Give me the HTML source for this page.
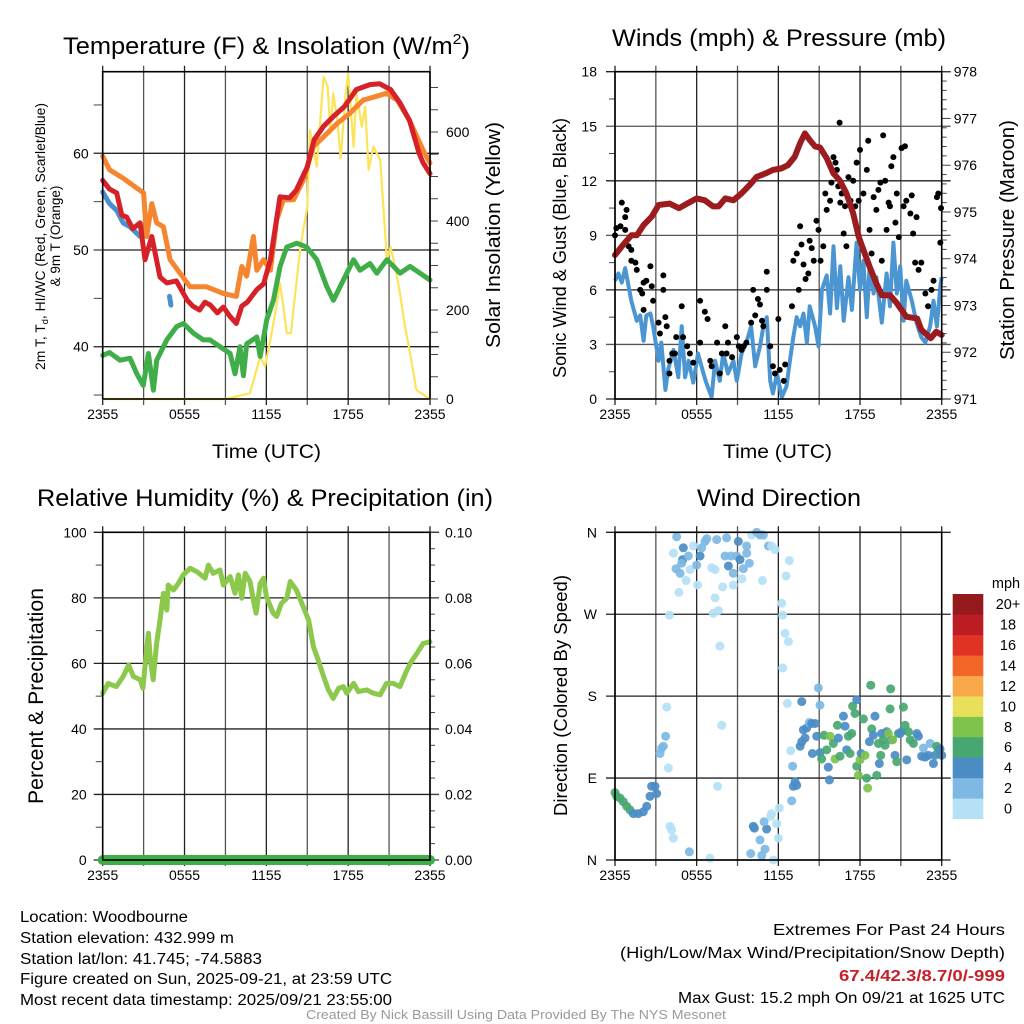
<!DOCTYPE html>
<html><head><meta charset="utf-8"><style>
html,body{margin:0;padding:0;background:#fff;}
svg{display:block;font-family:"Liberation Sans",Arial,sans-serif;}
</style></head><body>
<svg id="fig" width="1024" height="1024" viewBox="0 0 1024 1024" xmlns="http://www.w3.org/2000/svg">
<rect width="1024" height="1024" fill="#fff"/>
<g id="p1"></g>
<g id="p2"></g>
<g id="p3"></g>
<g id="p4"></g>
<g font-size="24" fill="#000">
<text x="63" y="54" textLength="407" lengthAdjust="spacingAndGlyphs">Temperature (F) &amp; Insolation (W/m<tspan font-size="15" dy="-10">2</tspan><tspan dy="10">)</tspan></text>
<text x="612" y="46" textLength="334" lengthAdjust="spacingAndGlyphs">Winds (mph) &amp; Pressure (mb)</text>
<text x="37" y="506" textLength="456" lengthAdjust="spacingAndGlyphs">Relative Humidity (%) &amp; Precipitation (in)</text>
<text x="697" y="506" textLength="164" lengthAdjust="spacingAndGlyphs">Wind Direction</text>
</g>
<g font-size="19">
<text x="212" y="458" textLength="109" lengthAdjust="spacingAndGlyphs">Time (UTC)</text>
<text x="723" y="458" textLength="109" lengthAdjust="spacingAndGlyphs">Time (UTC)</text>
</g>
<text transform="translate(45,370) rotate(-90)" font-size="13.5" textLength="267" lengthAdjust="spacingAndGlyphs">2m T, T<tspan font-size="9" dy="3">d</tspan><tspan dy="-3">, HI/WC (Red, Green, Scarlet/Blue)</tspan></text>
<text transform="translate(60,236) rotate(-90)" font-size="13.5" text-anchor="middle">&amp; 9m T (Orange)</text>
<text transform="translate(500,348) rotate(-90)" font-size="20" textLength="226" lengthAdjust="spacingAndGlyphs">Solar Insolation (Yellow)</text>
<text transform="translate(566,378) rotate(-90)" font-size="18" textLength="260" lengthAdjust="spacingAndGlyphs">Sonic Wind &amp; Gust (Blue, Black)</text>
<text transform="translate(1014,360) rotate(-90)" font-size="20" textLength="240" lengthAdjust="spacingAndGlyphs">Station Pressure (Maroon)</text>
<text transform="translate(43,804) rotate(-90)" font-size="21" textLength="216" lengthAdjust="spacingAndGlyphs">Percent &amp; Precipitation</text>
<text transform="translate(567,816) rotate(-90)" font-size="18" textLength="241" lengthAdjust="spacingAndGlyphs">Direction (Colored By Speed)</text>
<g id="cbar"></g>
<g font-size="15.5">
<text x="20" y="922" textLength="168" lengthAdjust="spacingAndGlyphs">Location: Woodbourne</text>
<text x="20" y="943" textLength="214" lengthAdjust="spacingAndGlyphs">Station elevation: 432.999 m</text>
<text x="20" y="964" textLength="242" lengthAdjust="spacingAndGlyphs">Station lat/lon: 41.745; -74.5883</text>
<text x="20" y="984" textLength="372" lengthAdjust="spacingAndGlyphs">Figure created on Sun, 2025-09-21, at 23:59 UTC</text>
<text x="20" y="1005" textLength="372" lengthAdjust="spacingAndGlyphs">Most recent data timestamp: 2025/09/21 23:55:00</text>
<text x="1005" y="935" text-anchor="end" textLength="232" lengthAdjust="spacingAndGlyphs">Extremes For Past 24 Hours</text>
<text x="1005" y="958" text-anchor="end" textLength="385" lengthAdjust="spacingAndGlyphs">(High/Low/Max Wind/Precipitation/Snow Depth)</text>
<text x="1005" y="981" text-anchor="end" fill="#c8202a" font-weight="bold" textLength="166" lengthAdjust="spacingAndGlyphs">67.4/42.3/8.7/0/-999</text>
<text x="1005" y="1003" text-anchor="end" textLength="327" lengthAdjust="spacingAndGlyphs">Max Gust: 15.2 mph On 09/21 at 1625 UTC</text>
</g>
<text x="306" y="1019" font-size="12.5" fill="#999" textLength="420" lengthAdjust="spacingAndGlyphs">Created By Nick Bassill Using Data Provided By The NYS Mesonet</text>
</svg>
<script>
// ---------- data ----------
const xTickLabels = ["2355","0555","1155","1755","2355"];
// Temperature panel
const tempRedH = [0,0.5,1.03,1.4,1.76,2.2,2.74,3.1,3.6,4.2,4.7,5.4,6.2,6.6,7.1,7.5,7.9,8.4,8.85,9.3,9.8,10.2,10.6,11.3,11.8,12.3,13.0,13.7,14.2,15.0,15.5,16.2,16.9,17.7,18.6,19.6,20.3,21.1,21.8,22.5,23.2,23.5,24];
const tempRed  = [57.2,56.3,55.9,53.6,53.4,52.2,52.8,49,51.4,47.2,46.6,46.8,44.8,44.2,43.8,44.6,44.3,43.5,44.1,43.2,42.4,44.2,44.6,45.9,46.5,49,55.5,55.4,56.2,58.6,61.4,62.8,63.8,64.8,66.6,67.1,67.2,66.6,65.2,63.4,60,59,57.9];
const tempOrH = [0,0.5,1.52,2.5,3.0,3.22,3.6,3.96,4.45,4.94,5.67,6.4,7.6,8.85,9.8,10.2,10.56,11.05,11.3,11.8,12.3,12.76,13.25,14.0,14.7,15.45,16.2,17.2,18.1,19.1,20.1,20.8,21.6,22.5,23.5,24];
const tempOr  = [59.7,58.3,57.4,56.4,55.9,51.4,54.8,52.8,52.4,49,47.6,46.2,46.2,45.5,45.2,48.3,47.3,51.4,47.9,49,47.9,53.1,55.2,55.2,57.2,60.7,61.7,63.1,64.1,65.5,65.9,66.2,65.5,63.4,60.3,59];
const windChillH = [0,0.5,1.03,1.5,2.0,2.74,null,4.9,5.0];
const windChill  = [56,54.8,54.1,52.8,52.4,51.4,null,45.2,44.3];
const dewH = [0,0.5,1.27,2.0,2.5,2.98,3.35,3.72,3.96,4.7,5.43,5.92,6.65,7.38,7.87,8.6,9.34,9.7,10.07,10.32,10.56,11.3,11.55,12.03,12.52,13.01,13.5,14.23,14.96,15.7,16.43,16.92,17.65,18.39,18.87,19.6,20.1,20.83,21.32,21.8,22.54,23.27,24];
const dew  = [39.1,39.4,38.6,38.8,37.2,36,39.3,35.5,38.6,40.7,42.1,42.4,41.4,40.7,40.7,40,39.3,37.2,40,37,40.3,41,39,42.8,44.8,48.3,50.3,50.7,50.3,49,46.2,44.8,46.9,49,47.9,48.6,47.6,49,48.3,47.6,48.3,47.6,46.9];
const solarH = [0,9.0,10.8,11.55,11.9,12.3,12.65,13.0,13.25,13.5,13.8,14.5,15.0,15.2,15.7,16.2,16.5,16.7,16.9,17.2,17.45,17.8,18.0,18.4,18.6,19.0,19.25,19.5,19.85,20.35,20.6,20.84,21.1,21.44,21.8,22.17,22.5,23.0,24];
const solar  = [0,0,13,95,73,133,193,260,207,148,148,342,432,604,522,724,702,597,687,627,541,680,732,567,687,612,657,515,567,537,425,312,342,297,237,163,110,20,0];
const tempTicks = [40,50,60];
const solarTicks = [0,200,400,600];
// Winds panel
const presH = [0,0.6,1.2,1.6,2.1,2.7,3.2,4.0,4.7,5.3,6.0,6.6,7.2,7.6,8.1,8.7,9.3,9.9,10.4,11.1,11.6,12.2,12.7,13.2,13.6,13.95,14.3,14.7,15.05,15.55,16.04,16.5,17.0,17.5,17.9,18.25,18.7,19.2,19.6,20.2,20.7,21.4,22.2,22.5,23.2,23.6,24];
const pres  = [974.08,974.3,974.5,974.5,974.72,974.9,975.15,975.18,975.08,975.18,975.29,975.25,975.12,975.12,975.29,975.25,975.4,975.58,975.75,975.83,975.9,975.93,976.0,976.18,976.47,976.68,976.54,976.4,976.38,976.15,975.83,975.68,975.4,974.97,974.47,974.19,973.83,973.47,973.22,973.22,973.05,972.76,972.72,972.48,972.3,972.44,972.37];
const windH = [0,0.25,0.5,0.75,1.0,1.2,1.6,1.85,2.1,2.3,2.6,2.8,3.2,3.4,3.7,3.9,4.3,4.65,4.9,5.15,5.4,5.75,6.1,6.5,6.7,7.1,7.35,7.7,7.95,8.3,8.7,8.95,9.3,9.65,10.0,10.3,10.65,10.9,11.15,11.4,11.6,11.9,12.25,12.6,12.85,13.1,13.35,13.6,13.85,14.1,14.3,14.7,14.95,15.2,15.55,15.8,16.05,16.3,16.55,16.8,17.15,17.4,17.75,18.0,18.25,18.5,18.7,19.0,19.2,19.6,19.95,20.2,20.45,20.7,20.95,21.2,21.4,21.8,22.15,22.5,22.8,23.15,23.4,23.65,23.9,24];
const wind  = [6.5,6.9,6.4,7.2,6.2,5.4,4.3,4.6,3.2,4.6,4.7,4.0,2.1,3.1,0.5,1.6,2.7,1.2,4.0,1.2,2.1,0.9,2.5,1.4,0.9,0.1,2.1,1.0,2.5,1.4,2.1,1.0,2.5,3.1,4.0,1.8,2.9,4.0,4.5,1.0,0.3,1.4,0.1,0.7,2.1,3.4,4.5,4.0,4.7,3.1,5.1,4.0,2.9,6.0,6.8,4.7,8.4,5.0,7.3,4.3,6.7,4.9,8.6,6.0,7.6,4.5,7.3,5.8,6.7,4.2,6.9,5.1,8.6,5.8,7.3,4.3,6.5,5.4,4.2,3.4,3.1,4.0,5.4,4.0,6.2,6.7];
const gustH = [0,0.1,0.4,0.5,0.75,0.85,0.75,1.0,1.2,1.2,1.5,1.6,1.85,2.0,2.1,2.3,2.6,2.7,2.8,3.55,3.55,2.1,3.2,3.3,3.8,3.7,4.0,4.2,4.4,4.0,4.5,4.9,5.0,5.3,5.5,5.75,6.25,6.6,6.8,6.25,7.0,7.1,7.5,7.7,7.85,8.1,8.3,8.2,8.6,8.95,9.1,9.3,9.45,9.65,10.0,10.15,10.3,10.5,10.65,10.8,10.9,11.15,11.15,11.4,11.6,11.75,12.0,12.1,12.4,12.5,13.0,13.1,13.35,13.5,13.6,13.7,13.85,14.0,14.2,14.3,14.45,14.6,14.8,14.95,15.1,15.3,15.45,15.55,15.8,15.9,16.05,16.2,16.3,16.4,16.5,16.55,16.65,16.8,16.9,17.0,17.15,17.3,17.5,17.65,17.75,17.9,18.0,18.25,18.5,18.6,18.7,18.85,19.0,19.2,19.35,19.5,19.6,19.7,19.85,19.95,20.1,20.2,20.3,20.45,20.6,20.7,20.85,21.05,21.2,21.3,21.4,21.7,21.8,21.9,22.05,22.15,22.3,22.5,22.8,23.0,23.25,23.4,23.65,23.75,23.9,23.95];
const gust  = [9.0,9.4,9.5,10.8,10.0,10.4,9.3,8.4,8.2,7.6,7.5,7.1,6.0,5.8,6.4,6.5,7.3,6.2,5.4,6.8,6.0,4.9,4.2,3.6,4.0,4.5,2.1,2.5,2.5,1.4,3.4,5.1,3.4,2.9,2.5,2.0,5.4,4.8,4.4,3.1,2.1,1.8,3.1,1.4,2.5,4.0,3.1,2.5,2.3,3.4,2.9,2.7,2.9,3.1,4.2,6.0,4.6,5.5,5.2,4.3,4.0,7.0,6.0,2.9,1.8,1.4,4.4,1.6,1.0,1.9,5.1,7.6,8.0,6.0,9.5,8.5,7.4,6.6,6.9,8.7,8.3,7.6,9.8,9.3,7.6,8.4,11.3,10.4,10.9,11.9,13.3,13.0,12.6,11.7,15.2,10.8,11.3,9.1,10.6,8.4,12.2,10.9,12.0,10.6,13.0,10.9,13.7,11.3,12.6,14.2,9.3,8.0,11.1,10.4,11.5,11.9,7.6,14.5,12.0,9.3,10.8,10.6,12.8,13.3,9.7,11.3,8.9,13.8,10.6,13.9,10.9,10.2,11.2,9.1,7.5,10.0,7.1,7.5,5.8,5.1,6.0,6.5,11.1,11.3,8.6,10.5];
const windTicks = [0,3,6,9,12,15,18];
const presTicks = [971,972,973,974,975,976,977,978];
// Humidity panel
const rhH = [0,0.4,1.0,1.5,1.9,2.25,2.75,2.95,3.1,3.35,3.5,3.7,3.95,4.2,4.45,4.7,4.8,5.2,5.55,5.9,6.4,6.9,7.5,7.75,8.1,8.6,8.85,9.35,9.7,9.95,10.2,10.45,10.8,11.05,11.25,11.55,11.8,12.0,12.5,12.75,13.1,13.5,13.75,14.2,14.7,15.1,15.45,15.8,16.2,16.55,16.9,17.3,17.65,17.9,18.4,18.75,19.35,19.85,20.35,20.8,21.3,21.8,22.2,22.55,23.05,23.5,24];
const rh  = [50.9,53.9,52.9,56,59.5,56,55,52.4,59,69.2,61,55,66.1,73.2,81.4,76.3,83.9,82.4,84.4,87,89,88,86,90,87.5,88.5,83.9,86.5,81.4,87,79.9,87.5,85,79.3,75.3,84.4,86,80.4,75.3,74.3,78.3,79.9,85,82.4,77.3,73.2,65.1,61,56,51.9,49.3,52.4,52.9,50.9,53.9,51.4,51.9,50.9,50.4,53.9,53.9,52.9,57,60,63.1,66.1,66.6];
const precipH = [0,24];
const precip = [0,0];
const rhTicks = [0,20,40,60,80,100];
const precipTicks = ["0.00","0.02","0.04","0.06","0.08","0.10"];
// Wind direction panel
const dirH = [0,0.12,0.37,0.61,0.86,1.1,1.35,1.71,2.08,2.33,2.57,2.69,2.94,3.06,3.31,3.43,3.55,3.72,3.92,3.8,4.04,4.16,4.29,5.46,6.98,7.54,7.84,7.71,4.0,4.53,5.02,4.97,4.9,4.48,4.78,5.22,4.7,4.29,5.39,5.51,5.76,6.0,6.25,6.37,6.61,6.74,7.47,8.2,6.07,7.1,7.35,7.35,7.22,7.59,7.91,8.08,8.33,8.52,8.69,8.69,8.94,9.06,9.18,9.31,9.43,9.67,9.67,9.87,10.04,10.41,10.65,10.9,10.83,11.27,11.51,11.76,12.81,12.56,12.25,12.32,12.49,12.74,12.32,12.66,10.16,10.24,11.14,10.95,10.65,11.02,10.78,9.97,11.63,12.0,11.88,11.51,11.44,12.07,12.98,13.1,13.23,13.35,13.05,12.91,13.72,13.84,13.96,14.08,14.28,14.45,14.7,14.94,15.06,14.82,13.6,13.72,14.5,15.06,15.18,15.36,15.55,15.67,15.75,15.8,16.04,16.16,16.34,16.41,16.53,16.78,16.9,17.02,17.14,17.27,17.39,17.46,17.63,17.76,17.76,17.88,18.0,18.08,18.25,18.37,18.49,18.56,18.69,18.79,18.86,18.98,19.1,19.23,19.35,19.42,19.52,19.59,19.72,19.84,19.96,20.08,20.21,20.25,20.33,20.4,20.57,20.7,20.82,20.94,21.06,21.19,21.31,21.43,21.55,21.68,21.92,22.17,22.29,22.53,22.66,22.78,23.02,23.15,23.39,23.51,23.63,23.76,24,23.88];
const dirDeg = [74,70,68,64,59,55,51,51,53,59,70,81,81,73,117,123,125,136,101,168,37,33,24,9,2,81,148,235,269,355,343,330,326,320,315,307,294,337,334,319,345,324,334,343,350,353,352,354,302,321,319,288,271,274,300,334,323,334,315,302,334,350,330,309,320,337,345,326,357,360,357,357,307,345,345,341,329,312,282,269,249,240,211,172,37,35,34,42,22,12,5,7,0,24,40,51,48,57,65,81,86,82,103,120,174,143,134,145,151,150,150,189,170,136,125,130,117,118,111,137,121,102,88,136,128,111,148,134,114,158,147,121,136,117,139,169,161,176,103,93,110,117,155,115,90,79,130,192,144,137,158,93,128,106,115,139,132,126,141,139,166,188,132,132,115,108,139,139,141,168,148,110,141,132,128,139,136,114,123,113,115,128,106,115,125,121,115,122];
const dirSpd = [7,7,7,7,7,7,5,5,5,5,5,5,5,5,3,3,3,3,1,1,1,1,1,3,1,1,1,1,1,3,5,5,3,3,3,1,1,1,3,1,1,3,5,3,3,3,3,3,1,1,1,1,1,1,1,3,5,3,3,1,3,5,5,1,3,3,3,3,1,3,3,3,1,3,1,1,1,1,1,1,1,1,1,1,5,5,5,3,3,3,3,3,1,1,1,1,1,1,3,5,5,5,3,1,5,5,5,5,3,5,5,3,3,5,5,5,5,5,7,7,7,5,5,9,7,9,7,5,7,5,5,5,7,7,7,7,7,5,7,9,9,5,7,9,7,9,5,7,7,5,5,7,7,5,7,5,7,7,5,9,7,7,5,9,5,7,7,5,5,7,7,5,7,7,7,5,5,5,3,5,5,3,5,5,7,7,5,5];
const dirTickLabels = ["N","E","S","W","N"];
const cbarLabels = ["0","2","4","6","8","10","12","14","16","18","20+"];
const cbarColors = ["#b4e1f6","#7db9e4","#4a8cc4","#46a770","#7ec34c","#e8e05a","#f9a94a","#f26628","#e03326","#bd1c24","#951a1d"];

// ---------- helpers ----------
const NS = "http://www.w3.org/2000/svg";
function mk(tag, attrs, parent){const e=document.createElementNS(NS,tag);for(const k in attrs)e.setAttribute(k,attrs[k]);parent.appendChild(e);return e;}
function lin(d0,d1,r0,r1){return v=>r0+(v-d0)*(r1-r0)/(d1-d0);}
function pathD(xs,ys,sx,sy){let d="",pen=false;for(let i=0;i<xs.length;i++){if(xs[i]===null||ys[i]===null){pen=false;continue;}d+=(pen?"L":"M")+sx(xs[i]).toFixed(1)+","+sy(ys[i]).toFixed(1);pen=true;}return d;}
function frame(g,L,R,T,B,name){
  // vertical grid every 3 h
  const sx=lin(0,24,L,R);
  for(let h=0;h<=24;h+=3){
    const ln=mk("line",{x1:sx(h),x2:sx(h),y1:T-6,y2:B+6,stroke:(h%6===0)?"#222":"#555","stroke-width":1.3},g);
    
    
  }
  for(let i=0;i<xTickLabels.length;i++){
    const t=mk("text",{x:sx(i*6),y:B+20,"font-size":14,"text-anchor":"middle"},g);
    t.textContent=xTickLabels[i];
    
    
  }
  return sx;
}
function hgrid(g,L,R,y,name,dark){
  const ln=mk("line",{x1:L-9,x2:R+9,y1:y,y2:y,stroke:dark?"#222":"#555","stroke-width":1.3},g);
  
  
}
function minor(g,x1,x2,y,name){
  const ln=mk("line",{x1:x1,x2:x2,y1:y,y2:y,stroke:"#444","stroke-width":1},g);
  
  
}
function label(g,x,y,txt,anchor,name){
  const t=mk("text",{x:x,y:y+5,"font-size":14,"text-anchor":anchor},g);
  t.textContent=txt;
  
  
}
function border(g,L,R,T,B,name){
  const r=mk("rect",{x:L,y:T,width:R-L,height:B-T,fill:"none",stroke:"#000","stroke-width":1.6},g);
  
  
}

// ---------- panel 1 ----------
(function(){
  const g=document.getElementById("p1");
  const L=102.7,R=430,T=71.7,B=399;
  const sx=frame(g,L,R,T,B,"temperature");
  const sy=lin(40,60,346.7,153.3);
  const sw=lin(0,200,399,310);
  for(const v of tempTicks){hgrid(g,L,R,sy(v),"temperature-gridline",true);label(g,L-14,sy(v),String(v),"end","temperature-tick-label");}
  for(let v=35;v<=65;v+=5){minor(g,L-9,L,sy(v),"temperature-minor-tick");}
  for(let v=0;v<=700;v+=50){minor(g,R,R+8,sw(v),"solar-tick");}
  for(const v of solarTicks){label(g,R+16,sw(v),String(v),"start","solar-tick-label");}
  const series=[[solarH,solar,sw,"#fde35a",2.2,"solar-line"],[dewH,dew,sy,"#3fae49",5,"dewpoint-line"],[tempOrH,tempOr,sy,"#f5862f",5,"nine-meter-temp-line"],[windChillH,windChill,sy,"#4a90cc",5,"wind-chill-line"],[tempRedH,tempRed,sy,"#d62128",5,"temperature-line"]];
  for(const s of series){
    const p=mk("path",{d:pathD(s[0],s[1],sx,s[2]),fill:"none",stroke:s[3],"stroke-width":s[4],"stroke-linejoin":"round","stroke-linecap":"round"},g);
    
    
  }
  border(g,L,R,T,B,"temperature");
})();

// ---------- panel 2 ----------
(function(){
  const g=document.getElementById("p2");
  const L=615,R=941.7,T=71.7,B=399;
  const sx=frame(g,L,R,T,B,"winds");
  const sy=lin(0,18,B,T);
  const sp=lin(971,978,B,T);
  for(const v of windTicks){hgrid(g,L,R,sy(v),"winds-gridline",v%6===0);label(g,L-18,sy(v),String(v),"end","wind-tick-label");}
  for(let v=1.5;v<18;v+=3){minor(g,L-6,L,sy(v),"wind-minor-tick");}
  for(let v=971;v<=978.001;v+=0.2){minor(g,R,R+(Math.abs(v-Math.round(v))<0.01?9:5),sp(v),"pressure-tick");}
  for(const v of presTicks){label(g,R+12,sp(v),String(v),"start","pressure-tick-label");}
  const wl=mk("path",{d:pathD(windH,wind,sx,sy),fill:"none",stroke:"#4b96d2","stroke-width":4,"stroke-linejoin":"round"},g);
  
  
  const gg=mk("g",{},g);
  
  
  for(let i=0;i<gustH.length;i++){
    const c=mk("circle",{cx:sx(gustH[i]),cy:sy(gust[i]),r:3,fill:"#000"},gg);
    
    
  }
  const pl=mk("path",{d:pathD(presH,pres,sx,sp),fill:"none",stroke:"#9b1b1e","stroke-width":6,"stroke-linejoin":"round","stroke-linecap":"round"},g);
  
  
  border(g,L,R,T,B,"winds");
})();

// ---------- panel 3 ----------
(function(){
  const g=document.getElementById("p3");
  const L=102.7,R=430,T=532.3,B=860;
  const sx=frame(g,L,R,T,B,"humidity");
  const sy=lin(0,100,B,T);
  for(const v of rhTicks){hgrid(g,L,R,sy(v),"humidity-gridline",true);label(g,L-16,sy(v),String(v),"end","humidity-tick-label");}
  for(let v=10;v<100;v+=20){minor(g,L-7,L,sy(v),"humidity-minor-tick");}
  for(let v=0;v<=100;v+=5){minor(g,R,R+(v%20===0?9:5),sy(v),"precip-tick");}
  for(let i=0;i<precipTicks.length;i++){label(g,R+15,sy(i*20),precipTicks[i],"start","precip-tick-label");}
  const pr=mk("path",{d:pathD(precipH,precip.map(v=>v*1000),sx,sy),fill:"none",stroke:"#3fae49","stroke-width":10,"stroke-linecap":"round"},g);
  
  
  const rl=mk("path",{d:pathD(rhH,rh,sx,sy),fill:"none",stroke:"#8cc84b","stroke-width":5,"stroke-linejoin":"round","stroke-linecap":"round"},g);
  
  
  border(g,L,R,T,B,"humidity");
})();

// ---------- panel 4 ----------
(function(){
  const g=document.getElementById("p4");
  const L=615,R=941.7,T=532.3,B=860;
  const sx=frame(g,L,R,T,B,"direction");
  const sy=lin(0,360,B,T);
  for(let i=0;i<dirTickLabels.length;i++){hgrid(g,L,R,sy(i*90),"direction-gridline",true);label(g,L-18,sy(i*90),dirTickLabels[i],"end","direction-tick-label");}
  const pg=mk("g",{},g);
  
  
  for(let i=0;i<dirH.length;i++){
    const ci=Math.min(10,Math.floor(dirSpd[i]/2));
    const c=mk("circle",{cx:sx(dirH[i]),cy:sy(dirDeg[i]),r:4.5,fill:cbarColors[ci],"fill-opacity":0.92},pg);
    
    
  }
  border(g,L,R,T,B,"direction");
  // colorbar
  const cb=document.getElementById("cbar");
  const cT=594,cB=818.7,cL=952.7,cW=30.6,h=(cB-cT)/cbarColors.length;
  for(let i=0;i<cbarColors.length;i++){
    const y=cB-(i+1)*h;
    const r=mk("rect",{x:cL,y:y,width:cW,height:h+0.3,fill:cbarColors[i]},cb);
    
    
    const t=mk("text",{x:1008,y:y+h/2+5,"font-size":14.5,"text-anchor":"middle"},cb);
    t.textContent=cbarLabels[i];
    
    
  }
  const u=mk("text",{x:1006,y:588,"font-size":14.5,"text-anchor":"middle"},cb);
  u.textContent="mph";
  
  
})();
</script>
</body></html>
